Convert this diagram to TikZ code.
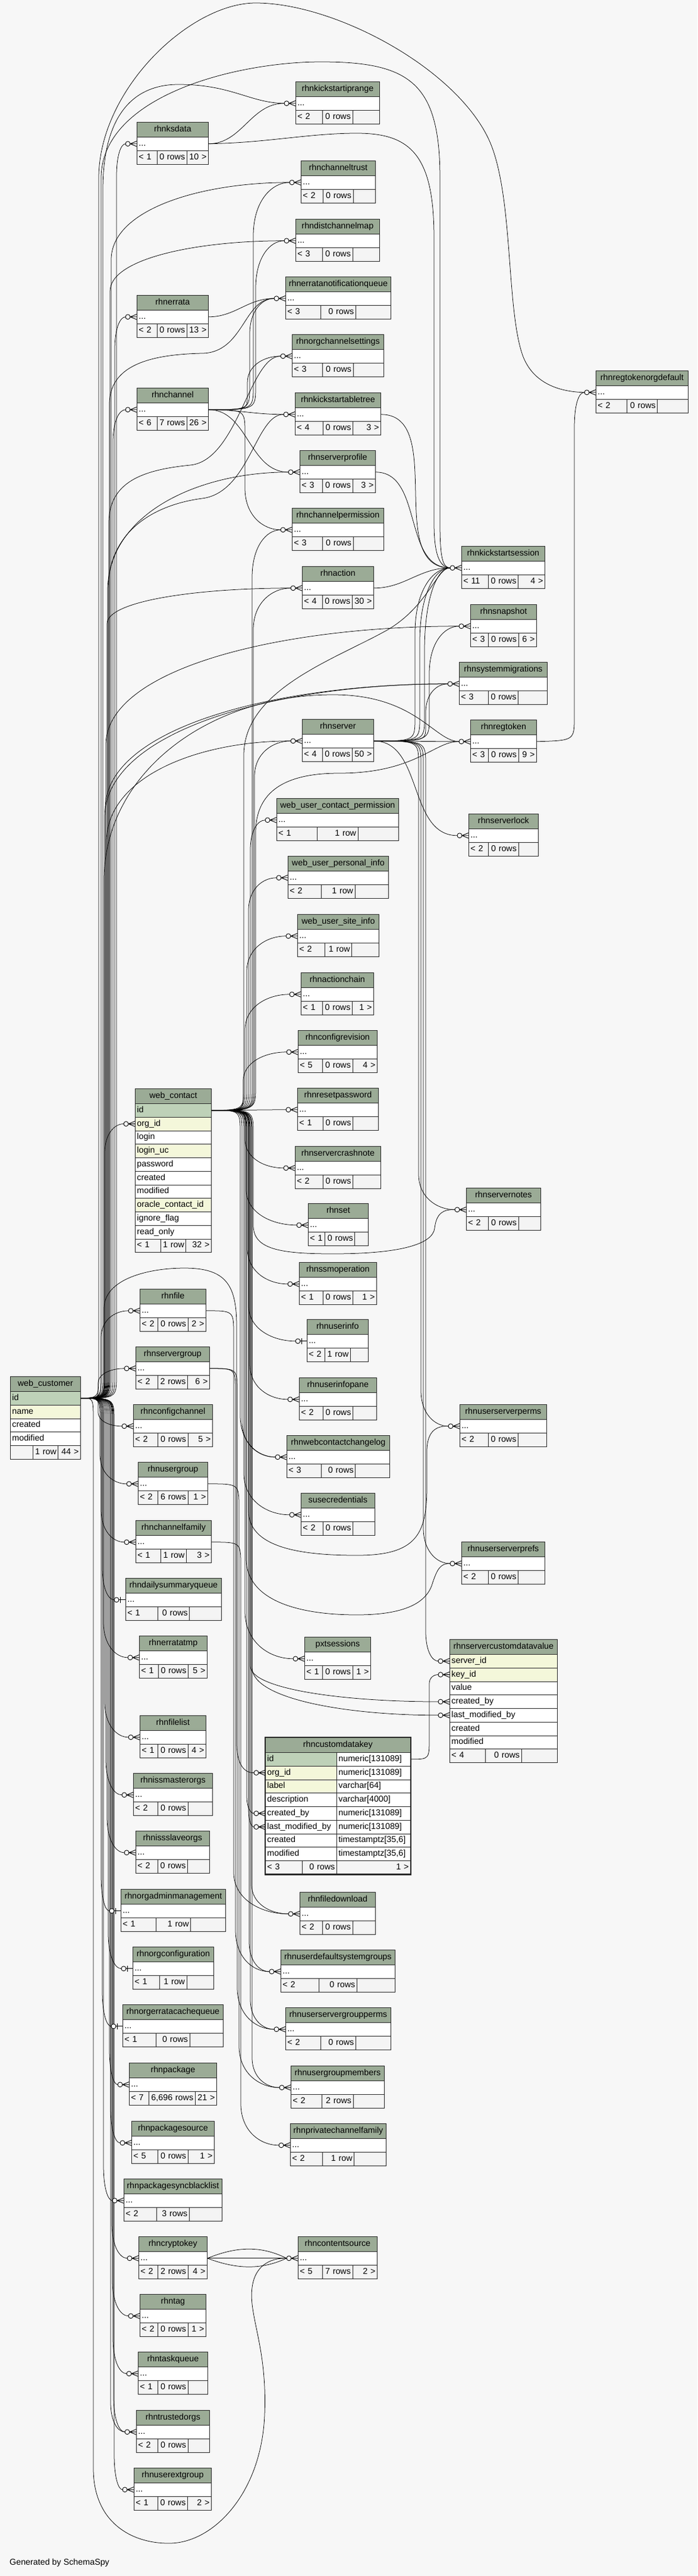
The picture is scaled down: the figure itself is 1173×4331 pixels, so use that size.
\documentclass[tikz,border=0pt]{standalone}
\usepackage{fontspec}
\setmainfont{Liberation Sans}
\usetikzlibrary{calc}
\definecolor{hdr}{HTML}{9BAB96}
\definecolor{ftr}{HTML}{F4F4F4}
\definecolor{pkrow}{HTML}{BED1B8}
\definecolor{ixrow}{HTML}{F4F7DA}
\definecolor{page}{HTML}{F7F7F7}
\pgfdeclarelayer{back}
\pgfdeclarelayer{edges}
\pgfsetlayers{back,edges,main}
\newcommand{\tabfont}{\fontsize{14.3}{17}\selectfont}
\font\tabfnt="Liberation Sans" at 14.3pt
\tikzset{
  tb/.style={draw=black!85, line width=0.8pt, font=\tabfont, inner xsep=3pt, inner ysep=0pt,
    anchor=north west, text height=10pt, text depth=3pt, minimum height=22.75pt},
  hd/.style={tb, fill=hdr, minimum height=25pt},
  rw/.style={tb, fill=white, align=left},
  ft/.style={tb, fill=ftr},
  fk/.style={draw=black, line width=0.75pt},
  foot/.style={draw=black, line width=0.9pt}
}
\newlength\cellw
\newlength\cellr
% footer row: name, x, y, width, left, middle, right
\newcommand{\ftr}[7]{%
  \settowidth\cellw{\tabfnt #6}\pgfmathsetmacro\mwd{max(#4/3,\cellw+8)}%
  \settowidth\cellr{\tabfnt #7}%
  \settowidth\cellw{\tabfnt #5}\pgfmathsetmacro\lwd{max(\cellw+8,(#4-\mwd)/2)}%
  \pgfmathsetmacro\lwd{max(\cellw+8,min(\lwd,#4-\mwd-\cellr-8))}%
  \pgfmathsetmacro\rwd{#4-\lwd-\mwd}%
  \pgfmathsetmacro\ltw{\lwd-6}\pgfmathsetmacro\mtw{\mwd-6}\pgfmathsetmacro\rtw{\rwd-6}%
  \node[ft, align=left, text width=\ltw pt] (#1-l) at (#2,#3) {\mbox{#5}};
  \node[ft, align=right, text width=\mtw pt] (#1-m) at ({#2+\lwd},#3) {\mbox{#6}};
  \node[ft, align=right, text width=\rtw pt] (#1-r) at ({#2+\lwd+\mwd},#3) {\mbox{#7}};}
% collapsed table: name, x, y, width, title, left, middle, right
\newcommand{\tbl}[8]{%
  \pgfmathsetmacro\twd{#4-6}%
  \node[hd, minimum width=#4pt] (#1-h) at (#2,#3) {#5};
  \node[rw, text width=\twd pt] (#1) at (#2,#3+25) {...};
  \ftr{#1}{#2}{#3+47.75}{#4}{#6}{#7}{#8}
  \coordinate (#1-in) at ([xshift=-19pt]#1.west);}
% connectors
\newcommand{\fks}[2]{\draw[fk] (#1) to[out=0,in=180] (#2-in);}
\newcommand{\fkr}[4]{%
  \draw[fk] let \p1=(#1), \p2=(#3-in), \n1={sign((\y2)-(\y1))},
    \n2={min(40,abs((\y2)-(\y1))/4)}, \n3={min(#4,abs((\y2)-(\y1))/2)} in
    (\p1) .. controls (#2pt,\y1) .. (#2pt,{\y1+(\n1)*\n2})
    -- (#2pt,{\y2-(\n1)*\n3})
    .. controls (#2pt,{\y2-(\n1)*\n3*0.35}) and ({(\x2+#2pt)/2},\y2) .. (\p2);}
\newcommand{\crow}[1]{%
  \draw[foot] ([xshift=-11pt]#1.west) -- ([yshift=4.5pt]#1.west)
    ([xshift=-11pt]#1.west) -- (#1.west)
    ([xshift=-11pt]#1.west) -- ([yshift=-4.5pt]#1.west);
  \draw[foot, fill=white] ([xshift=-15pt]#1.west) circle (4pt);}
\newcommand{\onefk}[1]{%
  \draw[foot] ([xshift=-11pt]#1.west) -- (#1.west)
    ([xshift=-9pt,yshift=5pt]#1.west) -- ([xshift=-9pt,yshift=-5pt]#1.west);
  \draw[foot, fill=white] ([xshift=-15pt]#1.west) circle (4pt);}

\begin{document}
\begin{tikzpicture}[x=1pt,y=-1pt]
\useasboundingbox (0,0) rectangle (1173,4331);
\begin{pgfonlayer}{back}
\fill[page] (0,0) rectangle (1173,4331);
\end{pgfonlayer}

% web_customer
\node[hd, minimum width=118pt] (webcustomer-h) at (17,2314) {web\_customer};
\foreach \nm/\cl [count=\i from 0] in {id/pkrow, name/ixrow, created/white, modified/white}
  {\node[rw, fill=\cl, text width=112pt] (webcustomer-\nm) at (17,{2339+22.75*\i}) {\nm};}
\ftr{webcustomer}{17}{2430}{118}{}{1 row}{44 >}

% web_contact
\node[hd, minimum width=128pt] (wct-h) at (227,1830) {web\_contact};
\foreach \nm/\tx/\cl [count=\i from 0] in {id/id/pkrow, org/org\_id/ixrow, login/login/white,
    loginuc/login\_uc/ixrow, pw/password/white, created/created/white, modified/modified/white,
    oracle/oracle\_contact\_id/ixrow, ignore/ignore\_flag/white, ro/read\_only/white}
  {\node[rw, fill=\cl, text width=122pt] (wct-\nm) at (227,{1855+22.75*\i}) {\tx};}
\ftr{wct}{227}{2082.5}{128}{< 1}{1 row}{32 >}
\coordinate (wct-org-in) at ([xshift=-19pt]wct-org.west);

% rhncustomdatakey
\node[hd, minimum width=244pt] (cdk-h) at (446,2921) {rhncustomdatakey};
\foreach \nm/\tx/\ty/\cl [count=\i from 0] in {id/id/{numeric[131089]}/pkrow,
    org/org\_id/{numeric[131089]}/ixrow, lbl/label/{varchar[64]}/ixrow,
    desc/description/{varchar[4000]}/white, cb/created\_by/{numeric[131089]}/white,
    lmb/last\_modified\_by/{numeric[131089]}/white, cr/created/{timestamptz[35,6]}/white,
    mod/modified/{timestamptz[35,6]}/white}
  {\node[rw, fill=\cl, text width=114pt] (cdk-\nm) at (446,{2946+22.75*\i}) {\tx};
   \node[rw, text width=118pt] (cdk-\nm t) at (566,{2946+22.75*\i}) {\ty};}
\node[ft, align=left, text width=56pt] (cdk-l) at (446,3128) {< 3};
\node[ft, align=right, text width=52pt] (cdk-m) at (508,3128) {0 rows};
\node[ft, align=right, text width=118pt] (cdk-r) at (566,3128) {1 >};
\draw[line width=2.5pt, black!85] (cdk-h.north west) rectangle (cdk-r.south east);
\foreach \nm in {org,cb,lmb} {\coordinate (cdk-\nm-in) at ([xshift=-19pt]cdk-\nm.west);}

% rhnservercustomdatavalue
\node[hd, minimum width=181pt] (scdv-h) at (756,2756) {rhnservercustomdatavalue};
\foreach \nm/\tx/\cl [count=\i from 0] in {sid/server\_id/ixrow, key/key\_id/ixrow, val/value/white,
    cb/created\_by/white, lmb/last\_modified\_by/white, cr/created/white, mod/modified/white}
  {\node[rw, fill=\cl, text width=175pt] (scdv-\nm) at (756,{2781+22.75*\i}) {\tx};}
\ftr{scdv}{756}{2940.25}{181}{< 4}{0 rows}{}
\foreach \nm in {sid,key,cb,lmb} {\coordinate (scdv-\nm-in) at ([xshift=-19pt]scdv-\nm.west);}

% left column
\tbl{ksdata}{230}{205}{120}{rhnksdata}{< 1}{0 rows}{10 >}
\tbl{errata}{230}{496}{120}{rhnerrata}{< 2}{0 rows}{13 >}
\tbl{channel}{230}{652}{120}{rhnchannel}{< 6}{7 rows}{26 >}
\tbl{file}{235}{2167}{111}{rhnfile}{< 2}{0 rows}{2 >}
\tbl{servergroup}{228}{2264}{124}{rhnservergroup}{< 2}{2 rows}{6 >}
\tbl{configchannel}{224}{2361}{133}{rhnconfigchannel}{< 2}{0 rows}{5 >}
\tbl{usergroup}{232}{2458}{117}{rhnusergroup}{< 2}{6 rows}{1 >}
\tbl{channelfamily}{228}{2556}{127}{rhnchannelfamily}{< 1}{1 row}{3 >}
\tbl{dailysummaryqueue}{211}{2653}{161}{rhndailysummaryqueue}{< 1}{0 rows}{}
\tbl{erratatmp}{234}{2750}{114}{rhnerratatmp}{< 1}{0 rows}{5 >}
\tbl{filelist}{235}{2884}{111}{rhnfilelist}{< 1}{0 rows}{4 >}
\tbl{issmasterorgs}{224}{2981}{133}{rhnissmasterorgs}{< 2}{0 rows}{}
\tbl{issslaveorgs}{228}{3078}{124}{rhnissslaveorgs}{< 2}{0 rows}{}
\tbl{orgadminmanagement}{203}{3176}{176}{rhnorgadminmanagement}{< 1}{1 row}{}
\tbl{orgconfiguration}{223}{3273}{136}{rhnorgconfiguration}{< 1}{1 row}{}
\tbl{orgerratacachequeue}{206}{3370}{169}{rhnorgerratacachequeue}{< 1}{0 rows}{}
\tbl{package}{217}{3468}{147}{rhnpackage}{< 7}{6,696 rows}{21 >}
\tbl{packagesource}{221}{3566}{139}{rhnpackagesource}{< 5}{0 rows}{1 >}
\tbl{packagesyncblacklist}{208}{3663}{165}{rhnpackagesyncblacklist}{< 2}{3 rows}{}
\tbl{cryptokey}{233}{3760}{115}{rhncryptokey}{< 2}{2 rows}{4 >}
\tbl{tag}{235}{3857}{111}{rhntag}{< 2}{0 rows}{1 >}
\tbl{taskqueue}{232}{3954}{117}{rhntaskqueue}{< 1}{0 rows}{}
\tbl{trustedorgs}{229}{4052}{123}{rhntrustedorgs}{< 2}{0 rows}{}
\tbl{userextgroup}{225}{4149}{130}{rhnuserextgroup}{< 1}{0 rows}{2 >}

% middle column
\tbl{kickstartiprange}{497}{137}{141}{rhnkickstartiprange}{< 2}{0 rows}{}
\tbl{channeltrust}{506}{270}{125}{rhnchanneltrust}{< 2}{0 rows}{}
\tbl{distchannelmap}{497}{368}{141}{rhndistchannelmap}{< 3}{0 rows}{}
\tbl{erratanotificationqueue}{480}{465}{177}{rhnerratanotificationqueue}{< 3}{0 rows}{}
\tbl{orgchannelsettings}{491}{562}{154}{rhnorgchannelsettings}{< 3}{0 rows}{}
\tbl{kickstartabletree}{496}{660}{144}{rhnkickstartabletree}{< 4}{0 rows}{3 >}
\tbl{serverprofile}{504}{757}{127}{rhnserverprofile}{< 3}{0 rows}{3 >}
\tbl{channelpermission}{491}{854}{154}{rhnchannelpermission}{< 3}{0 rows}{}
\tbl{action}{508}{952}{120}{rhnaction}{< 4}{0 rows}{30 >}
\tbl{server}{508}{1209}{120}{rhnserver}{< 4}{0 rows}{50 >}
\tbl{wucp}{465}{1342}{205}{web\_user\_contact\_permission}{< 1}{1 row}{}
\tbl{wupi}{484}{1439}{169}{web\_user\_personal\_info}{< 2}{1 row}{}
\tbl{wusi}{500}{1537}{137}{web\_user\_site\_info}{< 2}{1 row}{}
\tbl{actionchain}{506}{1635}{122}{rhnactionchain}{< 1}{0 rows}{1 >}
\tbl{configrevision}{501}{1732}{133}{rhnconfigrevision}{< 5}{0 rows}{4 >}
\tbl{resetpassword}{500}{1829}{136}{rhnresetpassword}{< 1}{0 rows}{}
\tbl{servercrashnote}{496}{1927}{144}{rhnservercrashnote}{< 2}{0 rows}{}
\tbl{set}{518}{2023}{101}{rhnset}{< 1}{0 rows}{}
\tbl{ssmoperation}{503}{2122}{130}{rhnssmoperation}{< 1}{0 rows}{1 >}
\tbl{userinfo}{516}{2218}{103}{rhnuserinfo}{< 2}{1 row}{}
\tbl{userinfopane}{503}{2316}{130}{rhnuserinfopane}{< 2}{0 rows}{}
\tbl{webcontactchangelog}{482}{2413}{173}{rhnwebcontactchangelog}{< 3}{0 rows}{}
\tbl{susecredentials}{506}{2510}{124}{susecredentials}{< 2}{0 rows}{}
\tbl{pxtsessions}{512}{2752}{111}{pxtsessions}{< 1}{0 rows}{1 >}
\tbl{filedownload}{504}{3181}{127}{rhnfiledownload}{< 2}{0 rows}{}
\tbl{userdefaultsystemgroups}{472}{3278}{192}{rhnuserdefaultsystemgroups}{< 2}{0 rows}{}
\tbl{userservergroupperms}{480}{3375}{177}{rhnuserservergroupperms}{< 2}{0 rows}{}
\tbl{usergroupmembers}{489}{3473}{157}{rhnusergroupmembers}{< 2}{2 rows}{}
\tbl{privatechannelfamily}{488}{3570}{161}{rhnprivatechannelfamily}{< 2}{1 row}{}
\tbl{contentsource}{501}{3760}{133}{rhncontentsource}{< 5}{7 rows}{2 >}

% right columns
\tbl{kickstartsession}{776}{918}{140}{rhnkickstartsession}{< 11}{0 rows}{4 >}
\tbl{snapshot}{791}{1016}{111}{rhnsnapshot}{< 3}{0 rows}{6 >}
\tbl{systemmigrations}{772}{1113}{148}{rhnsystemmigrations}{< 3}{0 rows}{}
\tbl{regtoken}{791}{1210}{111}{rhnregtoken}{< 3}{0 rows}{9 >}
\tbl{serverlock}{788}{1368}{117}{rhnserverlock}{< 2}{0 rows}{}
\tbl{servernotes}{784}{1997}{125}{rhnservernotes}{< 2}{0 rows}{}
\tbl{userserverperms}{773}{2361}{146}{rhnuserserverperms}{< 2}{0 rows}{}
\tbl{userserverprefs}{776}{2592}{140}{rhnuserserverprefs}{< 2}{0 rows}{}
\tbl{regtokenorgdefault}{1002}{623}{155}{rhnregtokenorgdefault}{< 2}{0 rows}{}

\node[font=\tabfont, anchor=west, inner sep=0pt] (gen) at (16,4309) {Generated by SchemaSpy};

\begin{pgfonlayer}{edges}
% web_customer, up the left channel
\fkr{webcustomer-id.east}{165}{servergroup}{30}
\fkr{webcustomer-id.east}{170}{file}{45}
\fkr{webcustomer-id.east}{176}{wct-org}{50}
\fkr{webcustomer-id.east}{190}{channel}{55}
\fkr{webcustomer-id.east}{193}{errata}{55}
\fkr{webcustomer-id.east}{196}{ksdata}{55}
\fkr{webcustomer-id.east}{187}{channeltrust}{130}
\fkr{webcustomer-id.east}{185}{distchannelmap}{85}
\fkr{webcustomer-id.east}{181}{serverprofile}{200}
\fkr{webcustomer-id.east}{180}{action}{60}
\fkr{webcustomer-id.east}{179}{server}{170}
\fkr{webcustomer-id.east}{178}{snapshot}{200}
\fkr{webcustomer-id.east}{177}{systemmigrations}{210}
\fkr{webcustomer-id.east}{176}{systemmigrations}{225}
\draw[fk] (webcustomer-id.east) .. controls (166,2350) .. (166,2310) -- (166,300)
  .. controls (166,150) and (320,5) .. (430,5)
  .. controls (560,5) and (760,110) .. (820,230)
  .. controls (865,320) and (850,520) .. (880,600)
  .. controls (900,650) and (950,659) .. (regtokenorgdefault-in);
\draw[fk] (webcustomer-id.east) .. controls (170,2350) .. (170,2310) -- (170,300)
  .. controls (170,160) and (400,104) .. (540,104)
  .. controls (690,104) and (740,140) .. (740,300) -- (740,880)
  .. controls (740,940) and (745,954) .. (kickstartsession-in);
\draw[fk] (webcustomer-id.east) .. controls (173,2350) .. (173,2310) -- (173,320)
  .. controls (173,175) and (240,142) .. (300,142)
  .. controls (390,142) and (420,173) .. (kickstartiprange-in);
\draw[fk] (webcustomer-id.east) .. controls (184,2350) .. (184,2310) -- (184,680)
  .. controls (184,615) and (250,596) .. (340,594)
  .. controls (410,593) and (410,501) .. (erratanotificationqueue-in);
\draw[fk] (webcustomer-id.east) .. controls (183,2350) .. (183,2310) -- (183,880)
  .. controls (183,810) and (240,790) .. (320,782)
  .. controls (400,774) and (420,598) .. (orgchannelsettings-in);
\draw[fk] (webcustomer-id.east) .. controls (182,2350) .. (182,2310) -- (182,990)
  .. controls (182,900) and (250,850) .. (340,838)
  .. controls (420,828) and (430,696) .. (kickstartabletree-in);
\draw[fk] (webcustomer-id.east) .. controls (175,2350) .. (175,2310) -- (175,1480)
  .. controls (175,1300) and (350,1168) .. (560,1168)
  .. controls (700,1168) and (730,1246) .. (regtoken-in);
\draw[fk] (webcustomer-id.east) .. controls (175,2350) .. (175,2310) -- (175,2200)
  .. controls (175,2150) and (250,2132) .. (310,2132)
  .. controls (380,2132) and (398,2160) .. (398,2230) -- (398,2930)
  .. controls (398,2965) and (410,2981) .. (cdk-org-in);
% web_customer, down the left channel
\foreach \tn/\cx/\bd in {configchannel/165/30, usergroup/168/50, channelfamily/170/55,
    dailysummaryqueue/172/55, erratatmp/174/60, filelist/176/60, issmasterorgs/178/60,
    issslaveorgs/180/60, orgadminmanagement/170/60, orgconfiguration/182/60,
    orgerratacachequeue/172/60, package/184/60, packagesource/186/60,
    packagesyncblacklist/174/60, cryptokey/188/60, tag/189/60, taskqueue/190/60,
    trustedorgs/191/60, trustedorgs/186/50, userextgroup/192/60}
  {\fkr{webcustomer-id.east}{\cx}{\tn}{\bd}}
\draw[fk] (webcustomer-id.east) .. controls (157,2350) .. (157,2390) -- (157,4150)
  .. controls (157,4240) and (220,4276) .. (284,4276)
  .. controls (360,4276) and (440,4190) .. (445,4060)
  .. controls (450,3940) and (415,3890) .. (425,3840)
  .. controls (432,3805) and (460,3796) .. (contentsource-in);

% web_contact
\foreach \tn/\cx/\bd in {wucp/421/50, wupi/418/55, wusi/415/60, actionchain/412/60,
    configrevision/409/55, channelpermission/424/80, action/426/70, server/428/60,
    servercrashnote/412/50, set/414/60, ssmoperation/416/60, userinfo/418/60,
    userinfopane/420/60, webcontactchangelog/404/70, webcontactchangelog/407/60,
    susecredentials/410/70, pxtsessions/412/80, cdk-cb/415/30, cdk-lmb/418/30,
    scdv-cb/421/60, scdv-lmb/424/80, filedownload/423/50, userdefaultsystemgroups/419/50,
    userservergroupperms/421/50, usergroupmembers/424/50}
  {\fkr{wct-id.east}{\cx}{\tn}{\bd}}
\fks{wct-id.east}{resetpassword}
\draw[fk] (wct-id.east) .. controls (410,1866) .. (410,1826) -- (410,1270)
  .. controls (410,1160) and (560,1110) .. (650,1060)
  .. controls (720,1020) and (735,954) .. (kickstartsession-in);
\draw[fk] (wct-id.east) .. controls (430,1866) .. (430,1826) -- (430,1400)
  .. controls (430,1330) and (480,1300) .. (570,1300)
  .. controls (700,1300) and (730,1246) .. (regtoken-in);
\draw[fk] (wct-id.east) .. controls (426,1866) .. (426,1906) -- (426,2060)
  .. controls (426,2100) and (470,2108) .. (560,2108)
  .. controls (680,2108) and (728,2090) .. (731,2065)
  .. controls (734,2040) and (745,2033) .. (servernotes-in);
\draw[fk] (wct-id.east) .. controls (418,1866) .. (418,1906) -- (418,2540)
  .. controls (418,2600) and (500,2615) .. (600,2615)
  .. controls (700,2615) and (718,2580) .. (718,2500) -- (718,2440)
  .. controls (718,2405) and (735,2397) .. (userserverperms-in);
\draw[fk] (wct-id.east) .. controls (414,1866) .. (414,1906) -- (414,2620)
  .. controls (414,2690) and (500,2715) .. (600,2715)
  .. controls (690,2715) and (720,2690) .. (728,2660)
  .. controls (735,2640) and (740,2628) .. (userserverprefs-in);

% rhnserver
\foreach \tn/\cx/\bd in {kickstartsession/698/110, kickstartsession/706/125,
    kickstartsession/714/140, snapshot/722/80, systemmigrations/716/60,
    servernotes/704/60, userserverperms/708/60, userserverprefs/712/60, scdv-sid/716/50}
  {\fkr{server.east}{\cx}{\tn}{\bd}}
\fks{server.east}{regtoken}
\fks{server.east}{serverlock}

% rhnchannel
\fkr{channel.east}{426}{channeltrust}{90}
\fkr{channel.east}{430}{distchannelmap}{80}
\fkr{channel.east}{420}{erratanotificationqueue}{60}
\fkr{channel.east}{416}{orgchannelsettings}{50}
\fkr{channel.east}{412}{channelpermission}{70}
\fks{channel.east}{kickstartabletree}
\fks{channel.east}{serverprofile}

% the rest
\fks{ksdata.east}{kickstartiprange}
\draw[fk] (ksdata.east) .. controls (450,240) and (520,224) .. (600,224)
  .. controls (690,224) and (730,260) .. (730,400) -- (730,880)
  .. controls (730,945) and (745,954) .. (kickstartsession-in);
\fks{errata.east}{erratanotificationqueue}
\fks{kickstartabletree.east}{kickstartsession}
\fks{serverprofile.east}{kickstartsession}
\fks{action.east}{kickstartsession}
\draw[fk] (regtoken.east) .. controls (966,1245) .. (966,1205) -- (966,720)
  .. controls (966,675) and (975,659) .. (regtokenorgdefault-in);
\fkr{file.east}{393}{filedownload}{70}
\fkr{servergroup.east}{396}{userdefaultsystemgroups}{70}
\fkr{servergroup.east}{399}{userservergroupperms}{70}
\fkr{usergroup.east}{402}{usergroupmembers}{70}
\fkr{channelfamily.east}{405}{privatechannelfamily}{70}
\fks{cryptokey.east}{contentsource}
\draw[fk] (cryptokey.east) .. controls (400,3776) and (440,3776) .. (contentsource-in);
\draw[fk] (cryptokey.east) .. controls (400,3816) and (440,3816) .. (contentsource-in);
\fkr{cdk-idt.east}{722}{scdv-key}{15}
\end{pgfonlayer}

% feet
\foreach \tn in {ksdata, errata, channel, file, servergroup, configchannel, usergroup,
    channelfamily, erratatmp, filelist, issmasterorgs, issslaveorgs, package, packagesource,
    packagesyncblacklist, cryptokey, tag, taskqueue, trustedorgs, userextgroup,
    kickstartiprange, channeltrust, distchannelmap, erratanotificationqueue,
    orgchannelsettings, kickstartabletree, serverprofile, channelpermission, action, server,
    wucp, wupi, wusi, actionchain, configrevision, resetpassword, servercrashnote, set,
    ssmoperation, userinfopane, webcontactchangelog, susecredentials, pxtsessions,
    filedownload, userdefaultsystemgroups, userservergroupperms, usergroupmembers,
    privatechannelfamily, contentsource, kickstartsession, snapshot, systemmigrations,
    regtoken, serverlock, servernotes, userserverperms, userserverprefs, regtokenorgdefault,
    wct-org, cdk-org, cdk-cb, cdk-lmb, scdv-sid, scdv-key, scdv-cb, scdv-lmb}
  {\crow{\tn}}
\foreach \tn in {dailysummaryqueue, orgadminmanagement, orgconfiguration,
    orgerratacachequeue, userinfo}
  {\onefk{\tn}}
\end{tikzpicture}
\end{document}
